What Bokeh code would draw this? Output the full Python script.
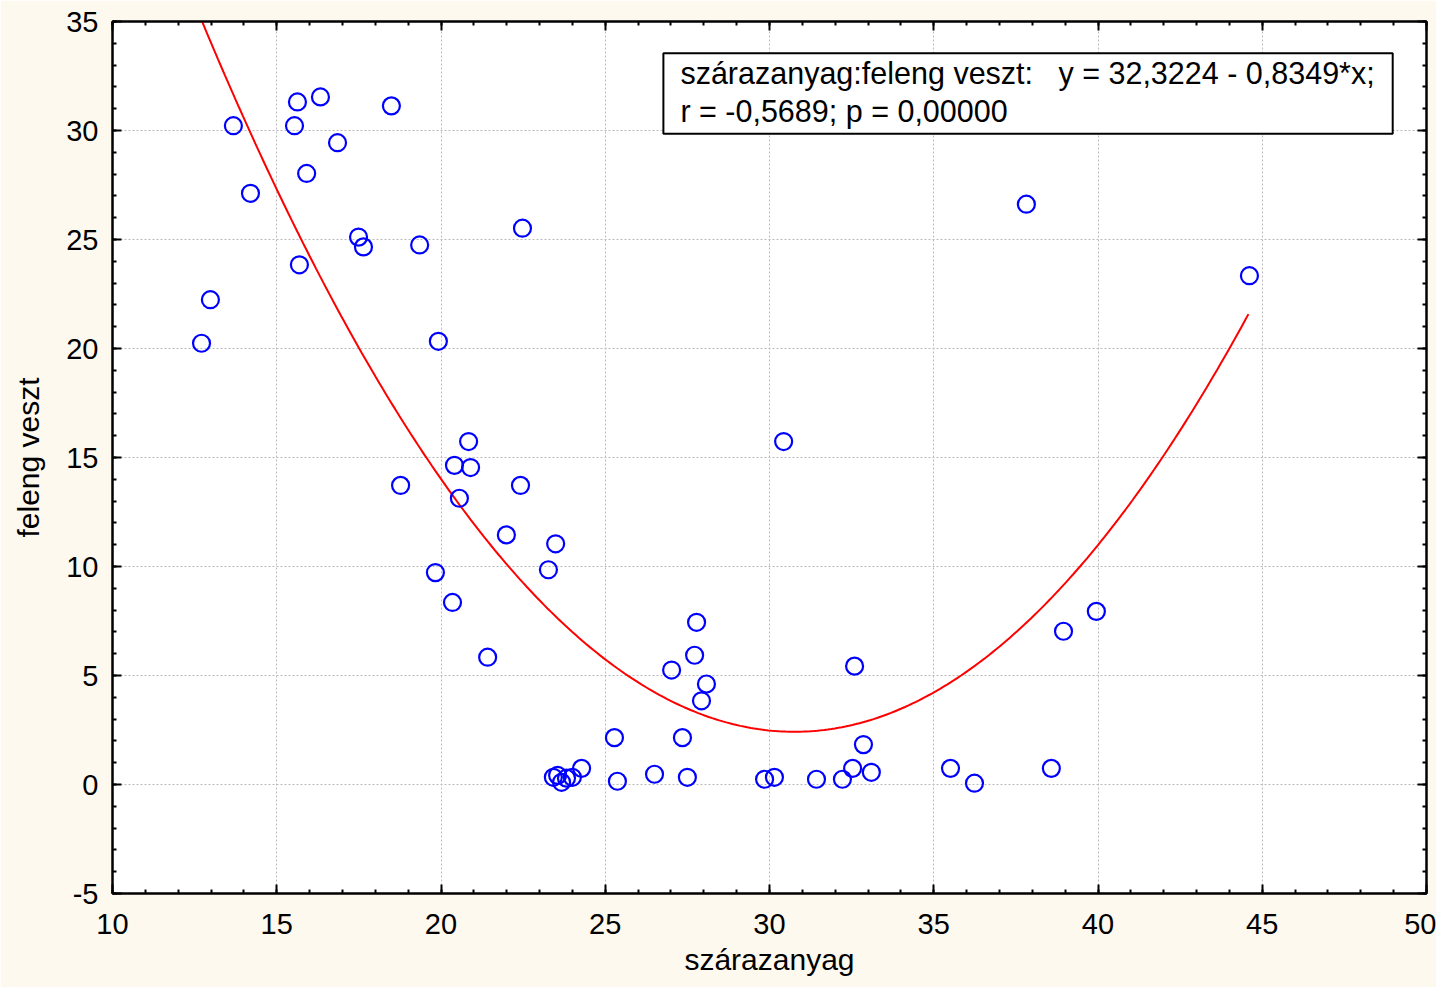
import numpy as np
from bokeh.plotting import figure
from bokeh.models import Range1d, LinearAxis, SingleIntervalTicker, Label
from bokeh.embed import file_html
from bokeh.resources import INLINE

# data
szarazanyag = [12.71, 12.98, 13.68, 14.20, 15.54, 15.63, 16.33, 15.91, 15.69, 16.85,
               18.49, 17.49, 17.64, 19.35, 22.48, 19.92, 20.84, 20.41, 20.90, 20.56,
               18.77, 22.42, 21.99, 23.49, 23.27, 19.83, 20.35, 21.42, 30.43, 37.82,
               44.61, 39.95, 38.95, 27.78, 27.72, 27.02, 28.08, 27.93, 32.59, 25.28,
               27.35, 32.86, 24.28, 25.37, 26.50, 27.50, 29.85, 30.15, 31.43, 32.22,
               32.53, 33.10, 35.51, 36.24, 38.58, 23.42, 23.55, 23.67, 23.82, 24.00]
feleng_veszt = [20.24, 22.24, 30.22, 27.12, 30.22, 31.31, 31.54, 28.03, 23.84, 29.44,
                31.13, 25.11, 24.66, 24.75, 25.52, 20.33, 15.73, 14.64, 14.54, 13.13,
                13.72, 13.72, 11.45, 11.04, 9.85, 9.72, 8.35, 5.84, 15.73, 26.62,
                23.34, 7.94, 7.03, 7.44, 5.93, 5.25, 4.61, 3.84, 5.43, 2.15,
                2.15, 1.83, 0.74, 0.15, 0.47, 0.33, 0.24, 0.33, 0.24, 0.24,
                0.74, 0.56, 0.74, 0.06, 0.74, 0.33, 0.42, 0.10, 0.29, 0.33]

# positions of the fitted (2nd order) curve
fit_x = [12.68, 13.39, 15.01, 16.13, 18.16, 18.92, 20.09, 20.80, 22.22, 22.72, 24.25,
         25.06, 27.49, 29.12, 29.98, 30.94, 33.18, 35.00, 36.22, 37.59, 40.00, 42.50, 44.58]
fit_y = [34.68, 32.31, 27.15, 23.81, 18.64, 16.82, 14.24, 12.72, 9.99, 9.08, 6.75,
         5.62, 3.38, 2.62, 2.40, 2.25, 2.78, 3.92, 5.05, 6.80, 11.00, 16.40, 22.06]

x_label = "szárazanyag"
y_label = "feleng veszt"
legend_text = ("szárazanyag:feleng veszt:\u00a0\u00a0\u00a0y = 32,3224 - 0,8349*x;\n"
               "r = -0,5689; p = 0,00000")

FONT = "Liberation Sans"
BG = "#FEF9EE"

p = figure(width=1436, height=987, output_backend="svg", toolbar_location=None,
           x_range=Range1d(10, 50), y_range=Range1d(-5, 35),
           min_border_left=112, min_border_right=10, min_border_top=21, min_border_bottom=94)
p.background_fill_color = "white"
p.border_fill_color = BG
p.outline_line_color = "black"
p.outline_line_width = 2

for ax in (p.xaxis[0], p.yaxis[0]):
    ax.ticker = SingleIntervalTicker(interval=5, num_minor_ticks=5)
    ax.major_tick_in = 9
    ax.major_tick_out = 0
    ax.minor_tick_in = 4
    ax.minor_tick_out = 0
    ax.major_tick_line_width = 2
    ax.minor_tick_line_width = 2
    ax.axis_line_width = 2
    ax.major_label_text_font = FONT
    ax.major_label_text_font_size = "29px"
    ax.major_label_text_color = "black"
    ax.axis_label_text_font = FONT
    ax.axis_label_text_font_size = "30px"
    ax.axis_label_text_font_style = "normal"
    ax.axis_label_text_color = "black"

p.xaxis.axis_label = x_label
p.yaxis.axis_label = y_label
p.yaxis.major_label_overrides = {-5: "-5"}
p.xaxis.major_label_standoff = 20
p.xaxis.axis_label_standoff = 6
p.yaxis.major_label_standoff = 14
p.yaxis.axis_label_standoff = 18

for loc in ("above", "right"):
    ax = LinearAxis(ticker=SingleIntervalTicker(interval=5, num_minor_ticks=5))
    ax.major_tick_in = 9
    ax.major_tick_out = 0
    ax.minor_tick_in = 4
    ax.minor_tick_out = 0
    ax.major_tick_line_width = 2
    ax.minor_tick_line_width = 2
    ax.axis_line_width = 2
    ax.major_label_text_font_size = "1px"
    ax.major_label_text_color = None
    ax.major_label_standoff = 0
    p.add_layout(ax, loc)

p.grid.ticker = SingleIntervalTicker(interval=5)
p.grid.grid_line_color = "#BBBBBB"
p.grid.grid_line_dash = "2 2"
p.grid.grid_line_width = 1

# smooth 2nd-order curve through the read curve positions
coef = np.polyfit(fit_x, fit_y, 2)
xs = np.linspace(min(fit_x), max(fit_x), 300)
p.line(xs, np.polyval(coef, xs), line_color="red", line_width=2)

p.scatter(szarazanyag, feleng_veszt, marker="circle", size=17, fill_color=None,
          line_color="#0000FF", line_width=2.2)

lab = Label(x=26.77, y=33.54, x_units="data", y_units="data", anchor="top_left",
            text=legend_text, text_font=FONT, text_font_size="30.5px",
            text_color="black", text_line_height=1.1,
            background_fill_color="white", border_line_color="black",
            border_line_width=2, padding=(17, 18, 3, 6))
p.add_layout(lab)

open("out.html", "w").write(file_html(p, INLINE))
